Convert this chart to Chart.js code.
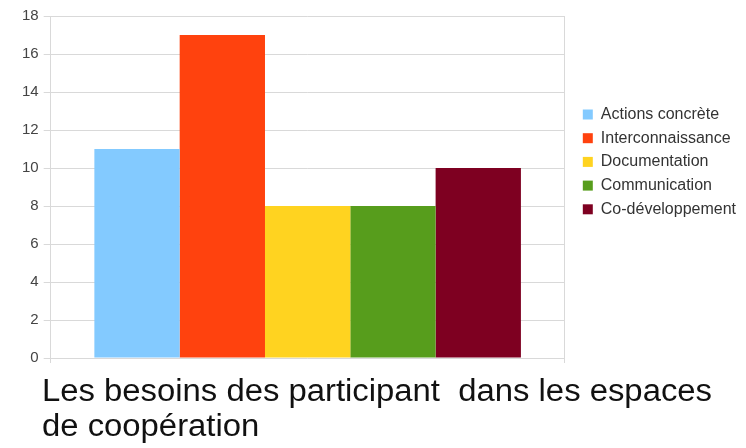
<!DOCTYPE html>
<html><head><meta charset="utf-8">
<script src="https://cdn.jsdelivr.net/npm/chart.js@4/dist/chart.umd.min.js"></script>
<style>html,body{margin:0;padding:0;background:#fff}#wrap{width:746px;height:448px;position:relative}</style>
</head><body><div id="wrap"><canvas id="c" width="746" height="448"></canvas></div>
<script>
const categories = [""];
const seriesNames = ["Actions concrète","Interconnaissance","Documentation","Communication","Co-développement"];
const seriesValues = [11, 17, 8, 8, 10];
const seriesColors = ["#83CAFF","#FF420E","#FFD320","#579D1C","#7E0021"];
const yTicks = [0,2,4,6,8,10,12,14,16,18];
const titleLines = ["Les besoins des participant  dans les espaces","de coopération"];

const titlePlugin = {
  id: 'bottomTitle',
  afterDraw(chart) {
    const ctx = chart.ctx;
    ctx.save();
    ctx.fillStyle = '#111';
    ctx.font = '31px "Liberation Sans", Arial, sans-serif';
    ctx.textBaseline = 'alphabetic';
    ctx.textAlign = 'left';
    const w = ctx.measureText(titleLines[0]).width;
    const sx = 670 / w;
    ctx.translate(42, 0);
    ctx.scale(sx, 1);
    ctx.fillText(titleLines[0], 0, 401);
    ctx.fillText(titleLines[1], 0, 436);
    ctx.restore();
  }
};

new Chart(document.getElementById('c'), {
  type: 'bar',
  data: {
    labels: categories,
    datasets: seriesNames.map((n, i) => ({
      label: n,
      data: [seriesValues[i]],
      backgroundColor: seriesColors[i],
      borderWidth: 0
    }))
  },
  options: {
    responsive: false,
    animation: false,
    layout: { padding: { left: 17, top: 16, right: 0, bottom: 85 } },
    datasets: { bar: { categoryPercentage: 0.83, barPercentage: 1.0 } },
    scales: {
      x: {
        offset: true,
        grid: { display: true, offset: true, color: '#d9d9d9', tickLength: 5, drawTicks: true },
        border: { display: false },
        ticks: { display: false }
      },
      y: {
        min: 0, max: 18,
        afterBuildTicks(axis) { axis.ticks = yTicks.map(v => ({ value: v })); },
        grid: { color: '#d9d9d9', tickLength: 7, drawTicks: true },
        border: { display: true, color: '#d9d9d9' },
        ticks: { color: '#444', font: { size: 15, family: '"Liberation Sans", Arial, sans-serif' }, padding: 5 }
      },
      gap: {
        type: 'linear',
        position: 'right',
        display: true,
        grid: { display: false, drawTicks: false },
        border: { display: false },
        ticks: { display: false },
        afterFit(axis) { axis.width = 10.5; }
      }
    },
    plugins: {
      legend: {
        position: 'right',
        align: 'start',
        maxWidth: 220,
        title: { display: true, text: '', font: { size: 10 }, padding: { top: 70.8, bottom: 0 } },
        labels: {
          boxWidth: 10, boxHeight: 10, padding: 7.7,
          color: '#333',
          font: { size: 16, family: '"Liberation Sans", Arial, sans-serif', lineHeight: 1.2 }
        }
      },
      tooltip: { enabled: false },
      title: { display: false }
    }
  },
  plugins: [titlePlugin]
});
</script>
</body></html>
